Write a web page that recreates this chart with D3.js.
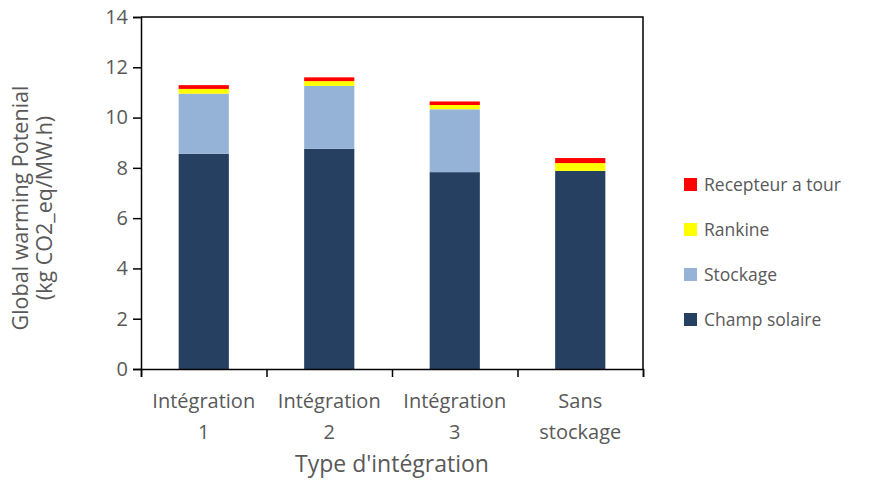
<!DOCTYPE html>
<html><head><meta charset="utf-8">
<script src="https://cdn.jsdelivr.net/npm/d3@7"></script>
<style>body{margin:0;background:#fff}svg{display:block}</style>
</head><body><svg id="c" width="870" height="481"></svg>
<script>
const categories = [["Intégration","1"],["Intégration","2"],["Intégration","3"],["Sans","stockage"]];
const seriesNames = ["Champ solaire","Stockage","Rankine","Recepteur a tour"];
const champSolaire = [8.56, 8.76, 7.83, 7.88];
const stockage = [2.39, 2.50, 2.50, 0];
const rankine = [0.19, 0.19, 0.17, 0.31];
const recepteur = [0.15, 0.15, 0.14, 0.20];
const colors = ["#254061","#95B3D7","#FFFF00","#FF0000"];
const yTicks = [0,2,4,6,8,10,12,14];

const svg = d3.select("#c");
const font = "'Open Sans', sans-serif";
const textColor = "#595959";
const L=141, R=643, T=17, B=369;
const x = d3.scaleBand().domain(d3.range(categories.length)).range([L,R]).paddingInner(0.6).paddingOuter(0.3);
const y = d3.scaleLinear().domain([0,14]).range([B,T]);

const rows = categories.map((c,i)=>({i, v:[champSolaire[i],stockage[i],rankine[i],recepteur[i]]}));
const stack = d3.stack().keys([0,1,2,3]).value((d,k)=>d.v[k])(rows);

// bars
svg.append("g").selectAll("g").data(stack).join("g").attr("fill",(d,k)=>colors[k])
  .selectAll("rect").data(d=>d).join("rect")
  .attr("x",d=>x(d.data.i)).attr("width",x.bandwidth())
  .attr("y",d=>y(d[1])).attr("height",d=>Math.max(0,y(d[0])-y(d[1])));

// frame
svg.append("path").attr("d",`M${L},${T}H${R}V${B}`).attr("fill","none").attr("stroke","#000").attr("stroke-width",1.5);

// y axis
const ya = svg.append("g").attr("transform",`translate(${L},0)`)
  .call(d3.axisLeft(y).tickValues(yTicks).tickSize(8).tickPadding(5).tickFormat(d3.format("d")));
ya.select(".domain").attr("stroke","#000").attr("stroke-width",1.5);
ya.selectAll(".tick line").attr("stroke","#000").attr("stroke-width",1.5);
ya.selectAll("text").attr("font-family",font).attr("font-size",20).attr("fill",textColor);

// x axis
const xb = d3.scaleLinear().domain([0,categories.length]).range([L,R]);
const xa = svg.append("g").attr("transform",`translate(0,${B})`)
  .call(d3.axisBottom(xb).tickValues(d3.range(categories.length+1)).tickSize(8).tickFormat(""));
xa.select(".domain").attr("stroke","#000").attr("stroke-width",1.5);
xa.selectAll(".tick line").attr("stroke","#000").attr("stroke-width",1.5);

const xl = svg.append("g").selectAll("text").data(categories).join("text")
  .attr("text-anchor","middle").attr("font-family",font).attr("font-size",20).attr("fill",textColor)
  .attr("transform",(d,i)=>`translate(${x(i)+x.bandwidth()/2},0)`);
xl.append("tspan").attr("x",0).attr("y",408).text(d=>d[0]);
xl.append("tspan").attr("x",0).attr("y",439).text(d=>d[1]);

// axis titles
svg.append("text").attr("x",(L+R)/2).attr("y",472).attr("text-anchor","middle")
  .attr("font-family",font).attr("font-size",23).attr("fill",textColor).text("Type d'intégration");
const yt = svg.append("text").attr("transform","translate(0,208) rotate(-90)").attr("text-anchor","middle")
  .attr("font-family",font).attr("font-size",21.5).attr("fill",textColor);
yt.append("tspan").attr("x",0).attr("y",28).text("Global warming Potenial");
yt.append("tspan").attr("x",0).attr("y",52).text("(kg CO2_eq/MW.h)");

// legend
const legOrder = [3,2,1,0];
const lg = svg.append("g").selectAll("g").data(legOrder).join("g")
  .attr("transform",(d,j)=>`translate(684,${185+j*45})`);
lg.append("rect").attr("x",0).attr("y",-7).attr("width",13).attr("height",13).attr("fill",d=>colors[d]);
lg.append("text").attr("x",20).attr("y",0).attr("dy","0.35em").attr("font-family",font).attr("font-size",17.5)
  .attr("fill",textColor).text(d=>seriesNames[d]);
</script></body></html>
